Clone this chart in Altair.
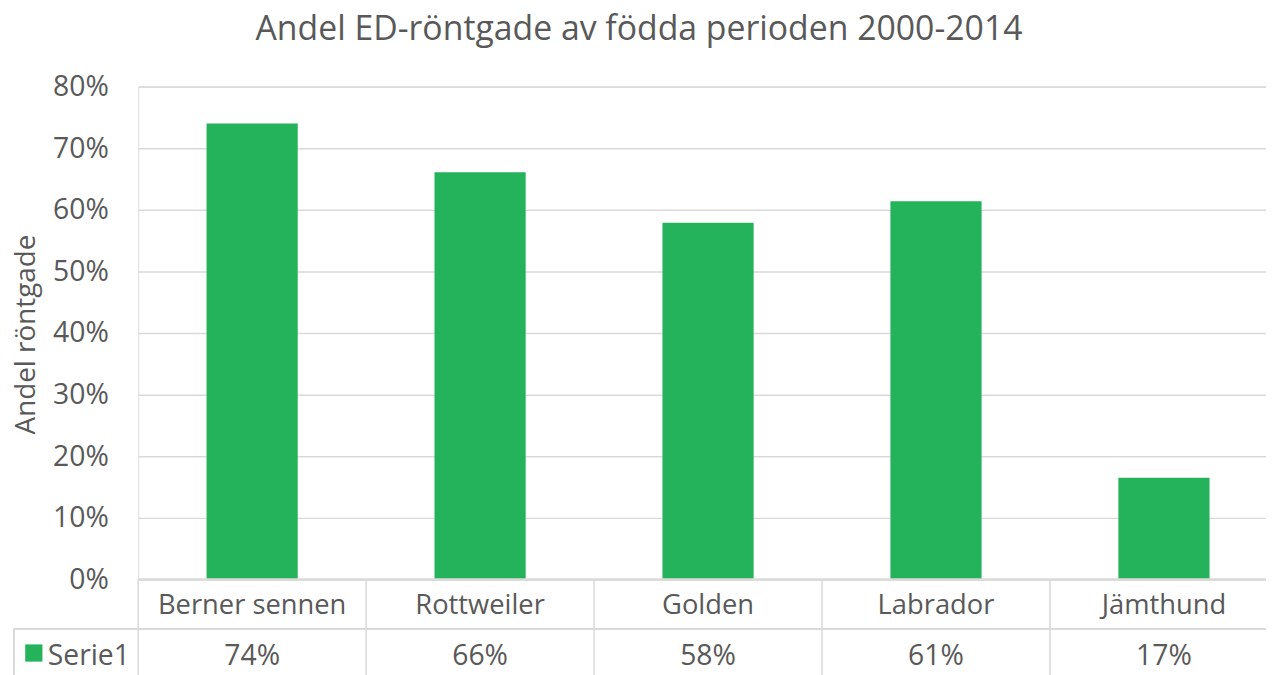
import altair as alt
import pandas as pd

categories = ["Berner sennen", "Rottweiler", "Golden", "Labrador", "Jämthund"]
values = [0.740, 0.661, 0.579, 0.614, 0.165]
series_name = "Serie1"
title_text = "Andel ED-röntgade av födda perioden 2000-2014"
y_title = "Andel röntgade"
y_ticks = [0, 0.1, 0.2, 0.3, 0.4, 0.5, 0.6, 0.7, 0.8]

FONT = "Open Sans"
TXT = "#595959"
GRID = "#d9d9d9"
GREEN = "#24B35A"
FS = 28.5

W, H = 1135, 496
PAD = {"left": 131, "top": 77, "right": 0, "bottom": 94}
STEP = 229.4
XR = STEP * len(categories)

df = pd.DataFrame({"cat": categories, "val": values})

xs = alt.X("cat:N", sort=categories, axis=None,
           scale=alt.Scale(range=[0, XR], paddingInner=0.6, paddingOuter=0.3))

bars = alt.Chart(df).mark_bar(color=GREEN).encode(
    x=xs,
    y=alt.Y("val:Q", scale=alt.Scale(domain=[0, 0.8], nice=False),
            axis=alt.Axis(values=y_ticks, format=".0%", grid=True, gridColor=GRID,
                          gridWidth=1.5, domain=False, ticks=False,
                          labelFont=FONT, labelFontSize=FS, labelColor=TXT,
                          labelPadding=30, title=y_title, titleFont=FONT,
                          titleFontSize=28, titleFontWeight="normal", titleColor=TXT,
                          titleX=-112, titleY=249, titleAlign="center",
                          titleBaseline="middle", titleAngle=270)),
)

cat_text = alt.Chart(df).mark_text(font=FONT, fontSize=27.5, color=TXT,
                                   baseline="middle").encode(
    x=xs, y=alt.value(523), text="cat:N")

val_text = alt.Chart(df).mark_text(font=FONT, fontSize=FS, color=TXT,
                                   baseline="middle").encode(
    x=xs, y=alt.value(573), text=alt.Text("val:Q", format=".0%"))

# table borders
vlines = pd.DataFrame({"bx": [i * STEP for i in range(len(categories) + 1)]})
vrules = alt.Chart(vlines).mark_rule(color=GRID, strokeWidth=1.5).encode(
    x=alt.X("bx:Q", scale=None), y=alt.value(496), y2=alt.value(595))

hrule_top = alt.Chart(df).mark_rule(color=GRID, strokeWidth=1.5).encode(
    x=alt.value(0), x2=alt.value(XR), y=alt.value(496))
hrule_mid = alt.Chart(df).mark_rule(color=GRID, strokeWidth=1.5).encode(
    x=alt.value(-125), x2=alt.value(XR), y=alt.value(545.5))
vrule_left = alt.Chart(df).mark_rule(color=GRID, strokeWidth=1.5).encode(
    x=alt.value(-125), y=alt.value(545.5), y2=alt.value(595))

leg_df = pd.DataFrame({"s": [series_name]})
leg_sq = alt.Chart(leg_df).mark_square(color=GREEN, size=300, opacity=1).encode(
    x=alt.value(-105), y=alt.value(570))
leg_tx = alt.Chart(leg_df).mark_text(font=FONT, fontSize=FS, color=TXT, align="left",
                                     baseline="middle").encode(
    x=alt.value(-91), y=alt.value(573), text="s:N")

title_df = pd.DataFrame({"t": [title_text]})
title = alt.Chart(title_df).mark_text(font=FONT, fontSize=34, color=TXT, align="center",
                                      baseline="alphabetic").encode(
    x=alt.value(504), y=alt.value(-47), text="t:N")

chart = alt.layer(bars, hrule_top, vrules, hrule_mid, vrule_left, cat_text, val_text,
                  leg_sq, leg_tx, title).properties(
    width=W, height=H, padding=PAD,
    autosize=alt.AutoSizeParams(type="none"),
).configure_view(stroke=None).configure(background="white")

chart.save("out.html", embed_options={"renderer": "svg", "actions": False})
